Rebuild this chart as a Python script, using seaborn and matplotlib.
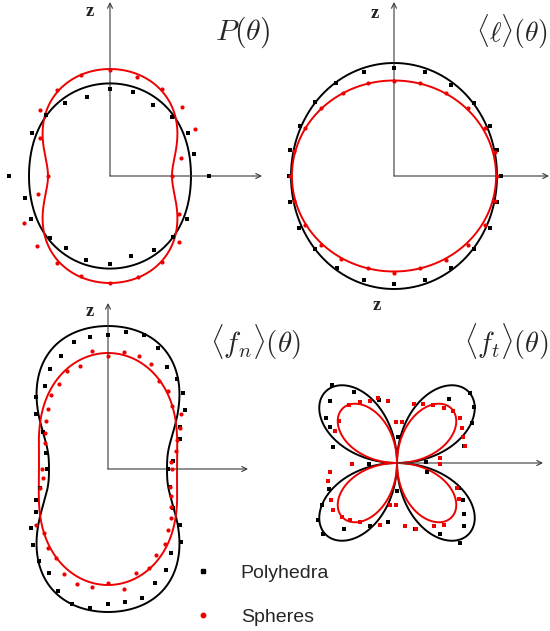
import numpy as np
import matplotlib
matplotlib.use("Agg")
import matplotlib.pyplot as plt
import seaborn as sns
from matplotlib.lines import Line2D

# ---------------- data: theta in degrees from +z (clockwise toward +x), r in drawing units ----------
p_poly_theta = [0, 15.6, 31, 46, 61.4, 75.5, 90, 119, 134.4, 149, 165, 180, -16, -31.5, -46.5, -61.2,
                -90, -104.7, -118.7, -136, -148.4, -164]
p_poly_r = [86.7, 86.9, 82.8, 85.6, 89.2, 86.8, 99.3, 88.5, 87.7, 86.0, 82.9, 88.0, 82.5, 86.0, 88.7, 88.6,
            100.7, 87.9, 90.0, 86.5, 84.1, 87.4]
p_sph_theta = [0, 15, 30.8, 46.2, 60.9, 76, 90, 119, 133.9, 149, 164.7, 180, -16, -31.5, -46.7, -61.3,
               -90, -104.3, -118.8, -133.7, -149, -164]
p_sph_r = [106, 102.8, 100.9, 100.2, 97.3, 72.8, 61.7, 79.2, 95.7, 100.6, 105, 106.7, 105, 100.8, 96.2, 79.8,
           62, 74, 98.2, 101.4, 102, 104]

l_poly_theta = [0, 16.4, 32.2, 47.8, 62.4, 76, 90, 104, 118.4, 132.5, 148, 163.6, 180, -16, -31.9, -46.9,
                -62, -76, -90, -104, -118.5, -132.7, -148.3, -164]
l_poly_r = [107.7, 108.7, 107.6, 108, 107.9, 106.6, 107.3, 106.5, 108.7, 108.5, 108.1, 108.4, 108, 108.6, 109,
            108.7, 106.8, 107.5, 105.3, 107.4, 108.4, 108, 107.7, 108.2]
l_sph_theta = [0, 15.5, 32.3, 47.6, 62.3, 76.4, 90, 104, 118.4, 133, 148, 164.5, 180, -15.7, -31.7, -47.3,
               -62, -76, -90, -104, -118.7, -133.3, -147.7, -164.3]
l_sph_r = [95, 96.2, 97.8, 100.3, 102.4, 103.6, 103, 103.6, 103, 101.2, 99, 95.8, 96.7, 96.2, 97.1, 99.8,
           101.3, 103, 104, 103, 101.9, 100.7, 98.6, 95.9]

fn_poly_theta = [0, 7.3, 14.9, 22.5, 30.1, 37.5, 44.7, 52.4, 59.8, 67.7, 82.7, 90, 106, 120.8, 128, 135.2,
                 143.1, 150.3, 157.8, 165.1, 172.6, 180, -172.5, -165.2, -157.7, -150.5, -143, -135.4, -127.7,
                 -120.6, -113.2, -105.4, -90, -75.2, -60.1, -52.5, -45.3, -37.3, -30, -22.4, -15.2, -7.6]
fn_poly_r = [134, 138.4, 138.7, 130.6, 118.3, 113.4, 106.5, 96.7, 82.9, 78.2, 65.5, 60, 64.2, 75.6, 91, 103.2,
             105.4, 116.3, 123.5, 133.2, 134.4, 135, 139.9, 140, 131.8, 119.9, 114.7, 106.8, 96.9,
             84, 78.7, 70.2, 60.7, 63.8, 75, 90.3, 101.8, 104.4, 115.2, 122.6, 131.2, 133.5]
fn_sph_theta = [0, 7.7, 15.1, 22.5, 30.1, 37.6, 45.3, 53, 60.6, 67.3, 75.2, 83.4, 90, 105.9, 113, 120.8,
                127.8, 135.5, 143, 150.7, 157.7, 165.1, 172.5, 180, -172.5, -165, -157.3, -149.8, -142.7,
                -135.1, -127.8, -105.8, -98, -90, -67.9, -60.2, -52.4, -45.2, -37.5, -30, -22.5, -15, -7.5]
fn_sph_r = [113, 117.7, 117.4, 113.3, 101.7, 98.4, 90, 90.9, 83, 75.1, 70.7, 63.7, 64.3, 64.8, 68.1, 73.7,
            79.4, 85.6, 94.3, 98.6, 107.3, 107.9, 121, 113.7, 119.4, 119, 114.2, 102.6, 99,
            90.7, 91.5, 71, 65.7, 65.7, 68.3, 73, 78.7, 84.6, 93.2, 98.1, 106.1, 107, 119.4]

ft_poly_theta = [1.5, 38.8, 46.3, 54.2, 62, 76, 88, 106.7, 112, 119, 127, 133.3, 141.6, 149, 164.4, 180,
                 -171, -156.7, -140.9, -133.8, -125.6, -119, -111, -92, -76.2, -61.8, -57.5, -47, -39.7,
                 -31.4, -16]
ft_poly_r = [26, 82.5, 101.4, 95.3, 85, 68.7, 29.3, 31.3, 66.5, 75.5, 84.5, 92.4, 102, 83.4, 68.2, 27.7,
             59.7, 69, 84.6, 102.5, 97.5, 85.8, 73.1, 28.3, 65.9, 75.6, 83.8, 91.3, 101.8,
             83.2, 65.9]
ft_sph_theta = [-1, 7, 16.4, 23.8, 31.7, 40.3, 47, 54.6, 61.7, 68.7, 76.3, 83.4, 91.3, 112.6, 120, 143.2,
                149.5, 164, 172.5, -179, -171, -164.3, -147.8, -140.8, -134.6, -126.1, -119, -104.8, -97.9,
                -91.3, -62.4, -54.4, -39.6, -31.5, -23.7, -16.3, -8.3]
ft_sph_r = [40.7, 41, 61.5, 64.5, 68.5, 72.2, 76.6, 77.7, 73.8, 70.8, 70.3, 43.6, 43.3, 65, 71.3, 77.9,
            73.5, 68.2, 63.9, 41.7, 42.2, 64, 70.1, 74, 77.3, 79.2, 75.5, 71.7, 67.3,
            45, 69.6, 71.7, 75.7, 71.5, 68, 67.7, 62.3]

# fitted curves: cosine-series coefficients [a0, a2, a4, a6]  ->  r = sum a_k cos(k*theta)
p_poly_fit = [87.4, 5.8, -0.6, 0.0]
p_sph_fit = [87.5, 22.5, -3.0, 0.0]
l_poly_fit = [108.0, 5.0, 0.0, 0.0]
l_sph_fit = [98.8, -3.3, 0.0, 0.0]
fn_poly_fit = [101.0, 45.0, 0.0, -3.0]
fn_sph_fit = [91.5, 23.5, 1.0, 0.0]
# <f_t> fits: four-lobed curves r = amplitude * |sin 2 theta|
ft_poly_amp = 101.0
ft_sph_amp = 77.0

titles = [r"$P(\theta)$", r"$\langle \ell \rangle(\theta)$",
          r"$\langle f_n \rangle(\theta)$", r"$\langle f_t \rangle(\theta)$"]
legend_labels = ["Polyhedra", "Spheres"]

# ---------------- style ----------------
sns.set_theme(style="white")
plt.rcParams["font.family"] = ["Liberation Sans", "DejaVu Sans"]
plt.rcParams["mathtext.fontset"] = "cm"

W, H = 550, 631
fig = plt.figure(figsize=(W / 100, H / 100), dpi=100)
fig.patch.set_facecolor("white")

RED = "#ee0000"
AX_COL = "#3a3a3a"
phi = np.linspace(0, 2 * np.pi, 1441)


def cos_series(coefs):
    return sum(c * np.cos(2 * k * phi) for k, c in enumerate(coefs))


def xz(theta_deg, r):
    t = np.deg2rad(np.asarray(theta_deg, float))
    r = np.asarray(r, float)
    return r * np.sin(t), r * np.cos(t)


panels = [
    dict(box=(0, 0, 275, 300), origin=(110, 176), up=174, right=152, z=(-20, 164), title=(133, 144), fs=21.5),
    dict(box=(275, 0, 275, 300), origin=(394, 176), up=174, right=155, z=(-19, 163), title=(118, 144), fs=20),
    dict(box=(0, 300, 275, 331), origin=(108, 469), up=166, right=140, z=(-18, 157), title=(148, 127), fs=21),
    dict(box=(275, 300, 275, 331), origin=(397, 463), up=164, right=146, z=(-20, 157), title=(109, 121), fs=20.5),
]

curves = [
    (cos_series(p_poly_fit), cos_series(p_sph_fit)),
    (cos_series(l_poly_fit), cos_series(l_sph_fit)),
    (cos_series(fn_poly_fit), cos_series(fn_sph_fit)),
    (ft_poly_amp * np.abs(np.sin(2 * phi)), ft_sph_amp * np.abs(np.sin(2 * phi))),
]
points = [
    ((p_poly_theta, p_poly_r), (p_sph_theta, p_sph_r), "o"),
    ((l_poly_theta, l_poly_r), (l_sph_theta, l_sph_r), "o"),
    ((fn_poly_theta, fn_poly_r), (fn_sph_theta, fn_sph_r), "o"),
    ((ft_poly_theta, ft_poly_r), (ft_sph_theta, ft_sph_r), "s"),
]

for i, pn in enumerate(panels):
    bx, by, bw, bh = pn["box"]
    ox, oy = pn["origin"]
    ax = fig.add_axes([bx / W, 1 - (by + bh) / H, bw / W, bh / H])
    ax.set_xlim(bx - ox, bx + bw - ox)
    ax.set_ylim(oy - (by + bh), oy - by)
    ax.set_axis_off()

    # axes arrows
    ax.annotate("", xy=(0, pn["up"]), xytext=(0, 0),
                arrowprops=dict(arrowstyle="->", lw=0.8, color=AX_COL, shrinkA=0, shrinkB=0,
                                mutation_scale=9))
    ax.annotate("", xy=(pn["right"], 0), xytext=(0, 0),
                arrowprops=dict(arrowstyle="->", lw=0.8, color=AX_COL, shrinkA=0, shrinkB=0,
                                mutation_scale=9))
    ax.text(pn["z"][0], pn["z"][1], "z", fontsize=13.5, fontweight="bold",
            family="Liberation Serif", ha="center", va="center", color="#222222")
    ax.text(pn["title"][0], pn["title"][1], titles[i], fontsize=pn["fs"], ha="center", va="center")

    r_poly, r_sph = curves[i]
    for rr, col in ((r_poly, "black"), (r_sph, RED)):
        x, y = rr * np.sin(phi), rr * np.cos(phi)
        sns.lineplot(x=x, y=y, sort=False, estimator=None, color=col, lw=1.4, ax=ax)

    (tp, rp), (ts, rs), sph_marker = points[i]
    x, y = xz(tp, rp)
    sns.scatterplot(x=x, y=y, marker="s", s=8, color="black", linewidth=0, ax=ax, zorder=4)
    x, y = xz(ts, rs)
    sns.scatterplot(x=x, y=y, marker=sph_marker, s=9 if sph_marker == "o" else 8,
                    color=RED, linewidth=0, ax=ax, zorder=5)

handles = [Line2D([], [], ls="", marker="s", ms=3.4, color="black"),
           Line2D([], [], ls="", marker="o", ms=3.2, color=RED)]
fig.legend(handles, legend_labels, loc="upper left", bbox_to_anchor=(193 / W, 1 - 564 / H),
           frameon=False, fontsize=14, handlelength=1.0, handletextpad=1.45,
           labelspacing=1.38, borderpad=0, borderaxespad=0)

fig.savefig("out.png", dpi=100, facecolor="white")
